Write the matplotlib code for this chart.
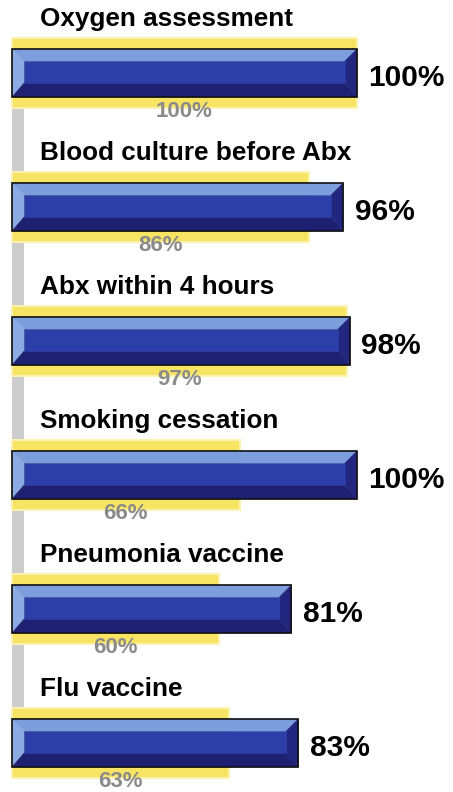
import matplotlib.pyplot as plt
from matplotlib.patches import Polygon, Rectangle

plt.rcParams['font.family'] = ['Liberation Sans', 'DejaVu Sans']

categories = ['Oxygen assessment', 'Blood culture before Abx', 'Abx within 4 hours',
              'Smoking cessation', 'Pneumonia vaccine', 'Flu vaccine']
blue_vals = [100, 96, 98, 100, 81, 83]
yellow_vals = [100, 86, 97, 66, 60, 63]

fig = plt.figure(figsize=(4.53, 7.92), dpi=100)
ax = fig.add_axes([0, 0, 1, 1])
ax.set_xlim(-12 / 3.45, (453 - 12) / 3.45)
ax.set_ylim((792 - 73) / 134, -73 / 134)
ax.axis('off')

# grey spine down the left side
ax.add_patch(Rectangle((0, 0), 3.5, 5, facecolor='#cdcdcd', edgecolor='none', zorder=0))

yh = 0.522   # yellow bar height
bh = 0.358   # blue bar height
bx = 3.5     # bevel width (x units)
by = 0.09    # bevel height (y units)

for i, (cat, b, yv) in enumerate(zip(categories, blue_vals, yellow_vals)):
    # yellow comparison bar
    ax.add_patch(Rectangle((0, i - yh / 2), yv, yh, facecolor='#f6e462',
                           edgecolor='#fbf1b0', lw=1.5, zorder=1))
    # blue bevelled bar
    top, bot = i - bh / 2, i + bh / 2
    x0, x1 = 0, b
    ix0, ix1 = x0 + bx, x1 - bx
    iy0, iy1 = top + by, bot - by * 1.15
    faces = [
        ([(x0, top), (x1, top), (ix1, iy0), (ix0, iy0)], '#7d9edc'),
        ([(x0, top), (ix0, iy0), (ix0, iy1), (x0, bot)], '#8cabe2'),
        ([(x0, bot), (ix0, iy1), (ix1, iy1), (x1, bot)], '#1e2072'),
        ([(x1, top), (x1, bot), (ix1, iy1), (ix1, iy0)], '#23267e'),
        ([(ix0, iy0), (ix1, iy0), (ix1, iy1), (ix0, iy1)], '#2c3ea8'),
    ]
    for pts, col in faces:
        ax.add_patch(Polygon(pts, facecolor=col, edgecolor=col, lw=0.4, zorder=2))
    ax.add_patch(Rectangle((x0, top), b, bh, facecolor='none',
                           edgecolor='#111111', lw=1.2, zorder=3))

    ax.text(8.1, i - 0.40, cat, fontsize=18.8, fontweight='bold', color='black',
            ha='left', va='center')
    ax.text(b + 3.3, i + 0.035, f'{b}%', fontsize=21.5, fontweight='bold',
            color='black', ha='left', va='center')
    ax.text(yv / 2, i + 0.29, f'{yv}%', fontsize=16, fontweight='bold',
            color='#8a8a8a', ha='center', va='center')

fig.savefig('out.png', dpi=100, facecolor='white')
